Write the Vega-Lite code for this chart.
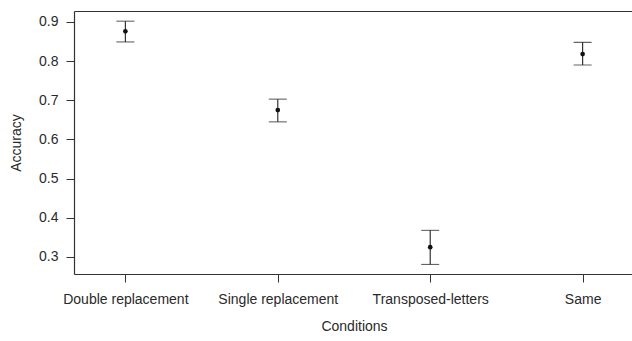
{
  "$schema": "https://vega.github.io/schema/vega-lite/v6.json",
  "autosize": "none",
  "width": 620,
  "height": 263,
  "padding": {"left": 74, "top": 11, "right": 0, "bottom": 67},
  "background": "white",
  "config": {
    "view": {"stroke": null},
    "font": "Liberation Sans",
    "axis": {
      "grid": false,
      "domain": true,
      "domainColor": "#333",
      "domainWidth": 1.2,
      "tickColor": "#333",
      "tickSize": 8,
      "labelFont": "Liberation Sans",
      "labelFontSize": 14,
      "labelColor": "#2a2a2a",
      "titleFont": "Liberation Sans",
      "titleFontSize": 14,
      "titleFontWeight": "normal",
      "titleColor": "#2a2a2a"
    }
  },
  "data": {
    "values": [
      {"condition": "Double replacement", "accuracy": 0.876, "lo": 0.849, "hi": 0.902},
      {"condition": "Single replacement", "accuracy": 0.675, "lo": 0.645, "hi": 0.703},
      {"condition": "Transposed-letters", "accuracy": 0.325, "lo": 0.281, "hi": 0.368},
      {"condition": "Same", "accuracy": 0.818, "lo": 0.790, "hi": 0.848}
    ]
  },
  "resolve": {"axis": {"x": "independent"}},
  "layer": [
    {
      "mark": {"type": "rule", "color": "#222", "strokeWidth": 1.1},
      "encoding": {
        "x": {
          "field": "condition",
          "type": "nominal",
          "sort": null,
          "scale": {"type": "point", "padding": 0.337, "range": [0, 560]},
          "axis": {"title": "Conditions", "labelAngle": 0, "labelPadding": 10, "titlePadding": 13, "titleX": 280}
        },
        "y": {
          "field": "lo",
          "type": "quantitative",
          "scale": {"domain": [0.2566, 0.928], "nice": false, "zero": false},
          "axis": {"title": "Accuracy", "values": [0.3, 0.4, 0.5, 0.6, 0.7, 0.8, 0.9], "format": ".1f", "labelPadding": 8, "titlePadding": 15}
        },
        "y2": {"field": "hi"}
      }
    },
    {
      "mark": {"type": "tick", "color": "#222", "size": 18, "thickness": 1.1, "orient": "horizontal"},
      "encoding": {
        "x": {"field": "condition", "type": "nominal", "sort": null, "axis": {"orient": "top", "labels": false, "ticks": false, "title": null}},
        "y": {"field": "lo", "type": "quantitative"}
      }
    },
    {
      "mark": {"type": "tick", "color": "#222", "size": 18, "thickness": 1.1, "orient": "horizontal"},
      "encoding": {
        "x": {"field": "condition", "type": "nominal", "sort": null, "axis": null},
        "y": {"field": "hi", "type": "quantitative"}
      }
    },
    {
      "mark": {"type": "point", "filled": true, "color": "#111", "size": 22, "opacity": 1},
      "encoding": {
        "x": {"field": "condition", "type": "nominal", "sort": null, "axis": null},
        "y": {"field": "accuracy", "type": "quantitative"}
      }
    }
  ]
}
